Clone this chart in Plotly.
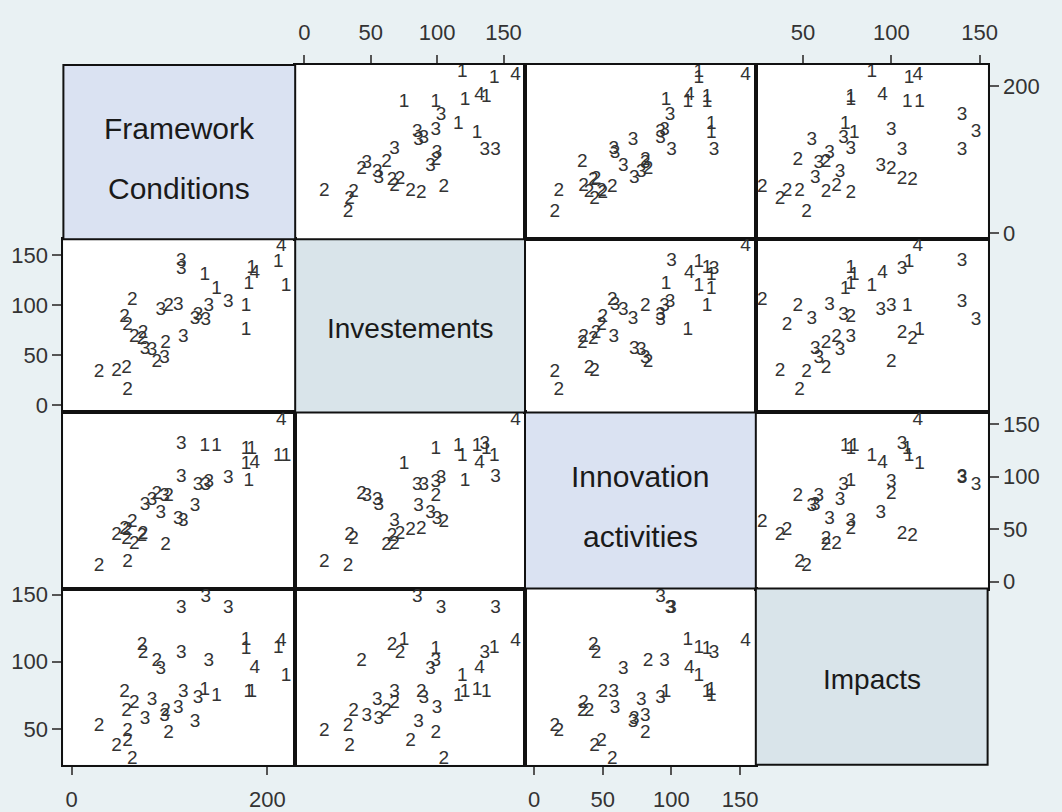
import plotly.graph_objects as go

# ---- data ----
cluster = ["4", "4", "1", "1", "1", "1", "1", "1", "1", "1",
           "2", "2", "2", "2", "2", "2", "2", "2", "2", "2", "2", "2", "2",
           "3", "3", "3", "3", "3", "3", "3", "3", "3", "3", "3", "3", "3"]
framework = [214, 187, 211, 219, 136, 148, 178, 178, 181, 184,
             28, 57, 46, 56, 64, 72, 73, 96, 87, 99, 62, 54, 57,
             112, 137, 160, 91, 112, 140, 82, 75, 114, 129, 95, 109, 126]
investements = [159, 132, 143, 119, 130, 116, 75, 99, 121, 137,
                33, 15, 34, 37, 68, 66, 72, 62, 43, 99, 105, 88, 80,
                144, 85, 103, 95, 136, 99, 55, 56, 68, 90, 47, 100, 86]
innovation = [154, 113, 120, 120, 129, 129, 112, 126, 96, 126,
              15, 18, 44, 40, 36, 43, 45, 35, 83, 81, 57, 50, 49,
              100, 92, 99, 65, 131, 95, 78, 73, 58, 92, 81, 59, 72]
impacts = [115, 95, 110, 89, 79, 74, 116, 109, 77, 77,
           52, 48, 37, 63, 69, 112, 106, 63, 100, 47, 27, 77, 41,
           140, 148, 140, 94, 106, 100, 71, 57, 77, 73, 59, 65, 55]

labels = [["Framework", "Conditions"], ["Investements"], ["Innovation", "activities"], ["Impacts"]]
tick_vals = [[0, 200], [0, 50, 100, 150], [0, 50, 100, 150], [50, 100, 150]]

series = [framework, investements, innovation, impacts]
ranges = [[-8.4, 228.3], [-6.9, 166.2], [-6.7, 161.5], [23.3, 154.5]]

W, H = 1062, 812
xe = [64, 298, 530, 763, 997]
ye = [60, 237, 413, 592, 771]
diag_fill = ["#DAE2F2", "#D9E4EA", "#DAE2F2", "#D9E4EA"]
diag_size = [30, 28, 30, 28]

FONT = "Liberation Sans, Arial, sans-serif"
fig = go.Figure()
layout = dict(width=W, height=H, margin=dict(l=0, r=0, t=0, b=0),
              paper_bgcolor="#E9F1F3", plot_bgcolor="white", showlegend=False)
shapes, annotations = [], []

for i in range(4):
    for j in range(4):
        x0, x1 = xe[j] / W, xe[j + 1] / W
        y0, y1 = 1 - ye[i + 1] / H, 1 - ye[i] / H
        if i == j:
            shapes.append(dict(type="rect", xref="paper", yref="paper",
                               x0=x0, x1=x1, y0=y0, y1=y1,
                               fillcolor=diag_fill[i], line=dict(color="#111", width=2)))
            cx = (xe[j] + xe[j + 1]) / 2
            cy = (ye[i] + ye[i + 1]) / 2
            lines = labels[i]
            offs = [-24, 37] if len(lines) == 2 else [3]
            for t, o in zip(lines, offs):
                annotations.append(dict(text=t, x=cx / W, y=1 - (cy + o) / H,
                                        xref="paper", yref="paper", showarrow=False,
                                        xanchor="center", yanchor="middle",
                                        font=dict(family=FONT, size=diag_size[i], color="#1a1a1a")))
            continue
        k = i * 4 + j + 1
        xs = "" if k == 1 else str(k)
        fig.add_trace(go.Scatter(x=series[j], y=series[i], mode="text", text=cluster,
                                 textfont=dict(family=FONT, size=19, color="#333"),
                                 xaxis="x" + xs, yaxis="y" + xs, hoverinfo="skip"))
        show_x = (j in (0, 2) and i == 3) or (j in (1, 3) and i == 0)
        show_y = (i in (0, 2) and j == 3) or (i in (1, 3) and j == 0)
        xax = dict(domain=[x0, x1], range=ranges[j], anchor="y" + xs,
                   showgrid=False, zeroline=False, showline=True, mirror=True,
                   linecolor="#111", linewidth=2,
                   showticklabels=show_x, ticks="outside" if show_x else "",
                   tickvals=tick_vals[j], ticklen=8, tickwidth=1.5, tickcolor="#555",
                   ticklabelstandoff=6,
                   side="bottom" if j in (0, 2) else "top",
                   tickfont=dict(family=FONT, size=22, color="#333"))
        yax = dict(domain=[y0, y1], range=ranges[i], anchor="x" + xs,
                   showgrid=False, zeroline=False, showline=True, mirror=True,
                   linecolor="#111", linewidth=2,
                   showticklabels=show_y, ticks="outside" if show_y else "",
                   tickvals=tick_vals[i], ticklen=9, tickwidth=1.5, tickcolor="#555",
                   side="right" if i in (0, 2) else "left",
                   tickfont=dict(family=FONT, size=22, color="#333"))
        layout["xaxis" + xs] = xax
        layout["yaxis" + xs] = yax

layout["shapes"] = shapes
layout["annotations"] = annotations
fig.update_layout(**layout)
fig.write_html("out.html", config={"displayModeBar": False},
               post_script="document.body.style.margin='0px';document.body.style.overflow='hidden';")
